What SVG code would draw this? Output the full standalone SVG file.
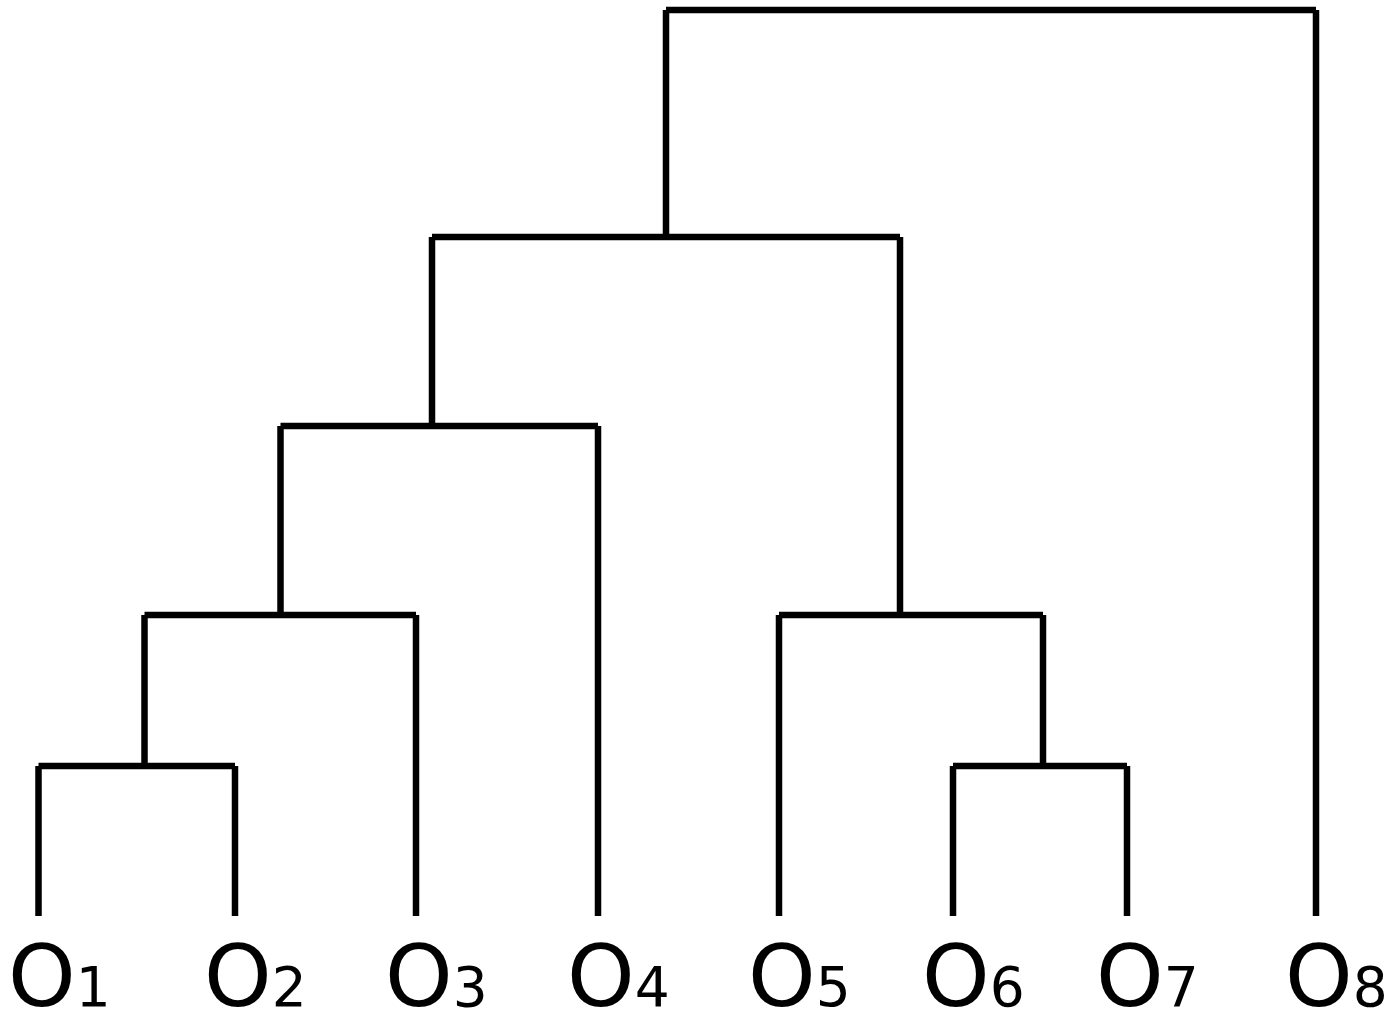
<svg xmlns="http://www.w3.org/2000/svg" width="1388" height="1016" viewBox="0 0 1388 1016">
<style>
.e{stroke:#000;stroke-width:6.5;fill:none;stroke-linecap:butt}
.l{font-family:"DejaVu Sans",sans-serif;font-size:86px;fill:#000}
.s{font-size:55px}
</style>
<rect width="1388" height="1016" fill="#fff"/>
<g id="connectors">
<path class="e" d="M38.5 916V766M235 916V766M38.5 766H235"/>
<path class="e" d="M144.5 766V615M416 916V615M144.5 615H416"/>
<path class="e" d="M280.5 615V426M598 916V426M280.5 426H598"/>
<path class="e" d="M953 916V766M1127 916V766M953 766H1127"/>
<path class="e" d="M1043 766V615M779 916V615M779 615H1043"/>
<path class="e" d="M432 426V237M900 615V237M432 237H900"/>
<path class="e" d="M666 237V10M1316 916V10M666 10H1316"/>
</g>
<g id="O1"><text class="l" x="8" y="1006">O<tspan class="s">1</tspan></text></g>
<g id="O2"><text class="l" x="204" y="1006">O<tspan class="s">2</tspan></text></g>
<g id="O3"><text class="l" x="385" y="1006">O<tspan class="s">3</tspan></text></g>
<g id="O4"><text class="l" x="567" y="1006">O<tspan class="s">4</tspan></text></g>
<g id="O5"><text class="l" x="748" y="1006">O<tspan class="s">5</tspan></text></g>
<g id="O6"><text class="l" x="922" y="1006">O<tspan class="s">6</tspan></text></g>
<g id="O7"><text class="l" x="1096" y="1006">O<tspan class="s">7</tspan></text></g>
<g id="O8"><text class="l" x="1285" y="1006">O<tspan class="s">8</tspan></text></g>
</svg>
